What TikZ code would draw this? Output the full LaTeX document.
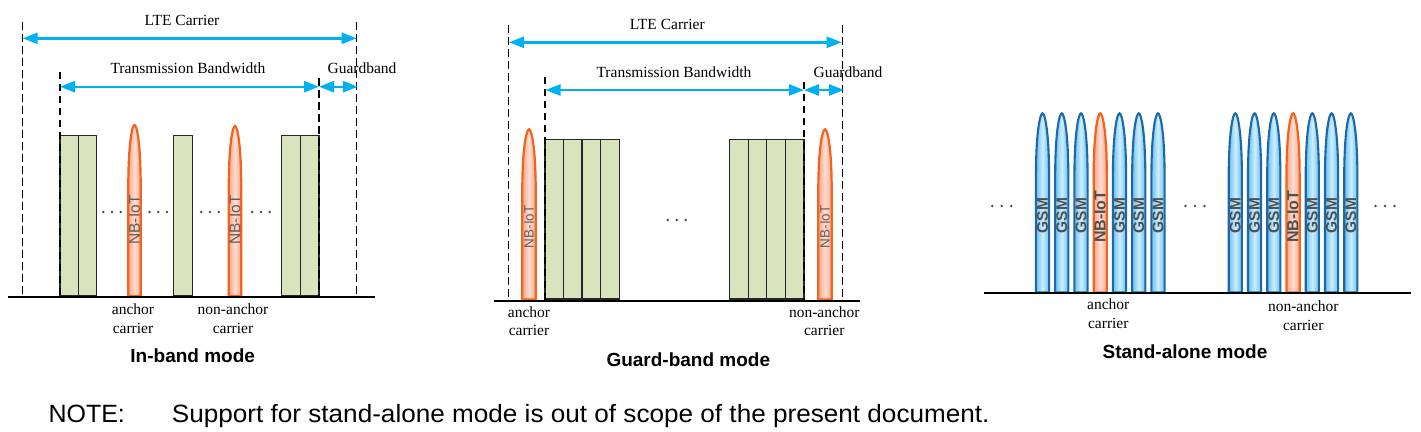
\documentclass[tikz,border=0pt]{standalone}
\usepackage{fontspec}
\setmainfont{Liberation Serif}
\newfontfamily\notesans{Liberation Sans}
\usetikzlibrary{arrows.meta}
\definecolor{arrowblue}{RGB}{0,176,240}
\definecolor{bandgreen}{RGB}{215,228,189}
\definecolor{nbline}{RGB}{240,100,30}
\definecolor{nbedge}{RGB}{250,165,138}
\definecolor{nbmid}{RGB}{253,222,210}
\definecolor{gsmline}{RGB}{28,105,165}
\definecolor{gsmedge}{RGB}{105,192,242}
\definecolor{gsmmid}{RGB}{205,238,253}
\definecolor{spiketext}{RGB}{95,95,95}
\definecolor{gsmtextc}{RGB}{80,80,80}
\newcommand\spikeshape[5]{%
  \path[#5] ({#1-#4},{#3}) -- ({#1-#4},{#2+0.36*(#3-#2)})
    .. controls ({#1-#4},{#2+0.1*(#3-#2)}) and ({#1-0.35*#4},{#2}) .. ({#1},{#2})
    .. controls ({#1+0.35*#4},{#2}) and ({#1+#4},{#2+0.1*(#3-#2)}) .. ({#1+#4},{#2+0.36*(#3-#2)})
    -- ({#1+#4},{#3}) -- cycle;}
\newcommand\dotrow[3]{%
  \fill[black!70] ({#1-#3},#2) circle (1.4) (#1,#2) circle (1.4) ({#1+#3},#2) circle (1.4);}
\tikzset{
  dimarrow/.style={draw=arrowblue, line width=2.4pt,
    {Triangle[length=15pt,width=11pt]}-{Triangle[length=15pt,width=11pt]}},
  guide/.style={draw=black, line width=1.5pt, dash pattern=on 7.5pt off 4.5pt},
  axisline/.style={draw=black, line width=2pt},
  band/.style={draw=black!85, line width=1.2pt, fill=bandgreen},
  lbl/.style={font=\fontsize{15.5}{18.5}\selectfont, inner sep=0pt, align=center},
  modetitle/.style={font=\notesans\bfseries\fontsize{19}{22}\selectfont, inner sep=0pt},
  notetext/.style={font=\notesans\fontsize{25}{30}\selectfont, inner sep=0pt, anchor=base west},
  nbspike/.style={draw=nbline, line width=2.2pt, left color=nbedge, right color=nbedge, middle color=nbmid},
  gsmspike/.style={draw=gsmline, line width=2.1pt, left color=gsmedge, right color=gsmedge, middle color=gsmmid},
  nbtext/.style={font=\notesans\fontsize{15.5}{15.5}\selectfont, text=spiketext, rotate=90, inner sep=0pt},
  nbtextb/.style={font=\notesans\bfseries\fontsize{16}{16}\selectfont, text=gsmtextc, rotate=90, inner sep=0pt},
  gsmtext/.style={font=\notesans\bfseries\fontsize{15.5}{15.5}\selectfont, text=gsmtextc, rotate=90, inner sep=0pt},
}
\begin{document}
\begin{tikzpicture}[x=1pt,y=-1pt]
\useasboundingbox[fill=white] (0,0) rectangle (1421,431);

% ================= In-band mode =================
\coordinate (ibLOt) at (22.7,22);   \coordinate (ibLOb) at (22.7,296);
\coordinate (ibROt) at (356.7,22);  \coordinate (ibROb) at (356.7,296);
\coordinate (ibLIt) at (60,71.7);   \coordinate (ibLIb) at (60,296);
\coordinate (ibRIt) at (319,78);    \coordinate (ibRIb) at (319,296);
\draw[band] (60,135.7) rectangle (78.3,296);
\draw[band] (78.3,135.7) rectangle (96.7,296);
\draw[band] (173.7,135.7) rectangle (192.3,296);
\draw[band] (281.7,135.7) rectangle (300.3,296);
\draw[band] (300.3,135.7) rectangle (319,296);
\spikeshape{134.5}{125}{296}{6.2}{nbspike}
\spikeshape{235}{126}{296}{6.2}{nbspike}
\node[nbtext] (ibNB1) at (134.5,220) {NB-IoT};
\node[nbtext] (ibNB2) at (235,220) {NB-IoT};
\dotrow{112}{212}{8.7}
\dotrow{158.3}{212}{8.7}
\dotrow{210}{212}{8.7}
\dotrow{261}{212}{8.7}
\draw[guide] (ibLOt) -- (ibLOb);
\draw[guide] (ibROt) -- (ibROb);
\draw[guide] (ibLIt) -- (ibLIb);
\draw[guide] (ibRIt) -- (ibRIb);
\coordinate (ibAxL) at (8,296.7); \coordinate (ibAxR) at (375,296.7);
\draw[axisline] (ibAxL) -- (ibAxR);
\coordinate (ibLTEl) at (22.7,38.3); \coordinate (ibLTEr) at (356.7,38.3);
\coordinate (ibTBl) at (60,86.7); \coordinate (ibTBr) at (319,86.7);
\coordinate (ibGBr) at (358,86.7);
\draw[dimarrow] (ibLTEl) -- (ibLTEr);
\draw[dimarrow] (ibTBl) -- (ibTBr);
\draw[dimarrow] (ibTBr) -- (ibGBr);
\node[lbl] (ibLTE) at (182,20.7) {LTE Carrier};
\node[lbl] (ibTB) at (188,68.5) {Transmission Bandwidth};
\node[lbl] (ibGB) at (362,68.5) {Guardband};
\node[lbl] (ibAnc) at (133,318.7) {anchor\\carrier};
\node[lbl] (ibNon) at (233,318.7) {non-anchor\\carrier};
\node[modetitle] (ibTitle) at (192.7,355.7) {In-band mode};

% ================= Guard-band mode =================
\coordinate (gbLOt) at (508.3,25);  \coordinate (gbLOb) at (508.3,300);
\coordinate (gbROt) at (842.3,25);  \coordinate (gbROb) at (842.3,300);
\coordinate (gbLIt) at (545,76.7);  \coordinate (gbLIb) at (545,300);
\coordinate (gbRIt) at (804,81.7);  \coordinate (gbRIb) at (804,300);
\draw[band] (545,139.3) rectangle (563.7,299);
\draw[band] (563.7,139.3) rectangle (582,299);
\draw[band] (582,139.3) rectangle (600.7,299);
\draw[band] (600.7,139.3) rectangle (619.3,299);
\draw[band] (729.3,139.3) rectangle (748.3,299);
\draw[band] (748.3,139.3) rectangle (766.7,299);
\draw[band] (766.7,139.3) rectangle (785.7,299);
\draw[band] (785.7,139.3) rectangle (804,299);
\spikeshape{529}{129.3}{299.5}{6.7}{nbspike}
\spikeshape{825}{129.3}{299.5}{6.7}{nbspike}
\node[nbtext, font=\notesans\fontsize{13.5}{13.5}\selectfont] (gbNB1) at (529,226.7) {NB-IoT};
\node[nbtext, font=\notesans\fontsize{13.5}{13.5}\selectfont] (gbNB2) at (825,226.7) {NB-IoT};
\dotrow{676.7}{220}{9}
\draw[guide] (gbLOt) -- (gbLOb);
\draw[guide] (gbROt) -- (gbROb);
\draw[guide] (gbLIt) -- (gbLIb);
\draw[guide] (gbRIt) -- (gbRIb);
\coordinate (gbAxL) at (494,301); \coordinate (gbAxR) at (860,301);
\draw[axisline] (gbAxL) -- (gbAxR);
\coordinate (gbLTEl) at (509,42.3); \coordinate (gbLTEr) at (841.7,42.3);
\coordinate (gbTBl) at (545.5,90); \coordinate (gbTBr) at (804,90);
\coordinate (gbGBr) at (844,90);
\draw[dimarrow] (gbLTEl) -- (gbLTEr);
\draw[dimarrow] (gbTBl) -- (gbTBr);
\draw[dimarrow] (gbTBr) -- (gbGBr);
\node[lbl] (gbLTE) at (667.3,24.7) {LTE Carrier};
\node[lbl] (gbTB) at (674,72) {Transmission Bandwidth};
\node[lbl] (gbGB) at (848,72) {Guardband};
\node[lbl] (gbAnc) at (529,321.4) {anchor\\carrier};
\node[lbl] (gbNon) at (824.3,321.4) {non-anchor\\carrier};
\node[modetitle] (gbTitle) at (688.3,359.3) {Guard-band mode};

% ================= Stand-alone mode =================
% group 1
\spikeshape{1042.5}{113.3}{292.5}{6.6}{gsmspike}
\spikeshape{1061.75}{113.3}{292.5}{6.6}{gsmspike}
\spikeshape{1081}{113.3}{292.5}{6.6}{gsmspike}
\spikeshape{1100.25}{113.3}{292.5}{6.6}{nbspike}
\spikeshape{1119.5}{113.3}{292.5}{6.6}{gsmspike}
\spikeshape{1138.75}{113.3}{292.5}{6.6}{gsmspike}
\spikeshape{1158}{113.3}{292.5}{6.6}{gsmspike}
\node[gsmtext] (saG1) at (1042.5,215.7) {GSM};
\node[gsmtext] (saG2) at (1061.75,215.7) {GSM};
\node[gsmtext] (saG3) at (1081,215.7) {GSM};
\node[nbtextb] (saN1) at (1100.25,216.7) {NB-IoT};
\node[gsmtext] (saG4) at (1119.5,215.7) {GSM};
\node[gsmtext] (saG5) at (1138.75,215.7) {GSM};
\node[gsmtext] (saG6) at (1158,215.7) {GSM};
% group 2
\spikeshape{1235.3}{113.3}{292.5}{6.6}{gsmspike}
\spikeshape{1254.55}{113.3}{292.5}{6.6}{gsmspike}
\spikeshape{1273.8}{113.3}{292.5}{6.6}{gsmspike}
\spikeshape{1293.05}{113.3}{292.5}{6.6}{nbspike}
\spikeshape{1312.3}{113.3}{292.5}{6.6}{gsmspike}
\spikeshape{1331.55}{113.3}{292.5}{6.6}{gsmspike}
\spikeshape{1350.8}{113.3}{292.5}{6.6}{gsmspike}
\node[gsmtext] (saG7) at (1235.3,215.7) {GSM};
\node[gsmtext] (saG8) at (1254.55,215.7) {GSM};
\node[gsmtext] (saG9) at (1273.8,215.7) {GSM};
\node[nbtextb] (saN2) at (1293.05,216.7) {NB-IoT};
\node[gsmtext] (saG10) at (1312.3,215.7) {GSM};
\node[gsmtext] (saG11) at (1331.55,215.7) {GSM};
\node[gsmtext] (saG12) at (1350.8,215.7) {GSM};
\dotrow{1001.7}{206}{9.5}
\dotrow{1195}{206}{9.5}
\dotrow{1385}{206}{9.5}
\coordinate (saAxL) at (984,293.3); \coordinate (saAxR) at (1410.7,293.3);
\draw[axisline] (saAxL) -- (saAxR);
\node[lbl] (saAnc) at (1108.3,313.5) {anchor\\carrier};
\node[lbl] (saNon) at (1303.3,315.5) {non-anchor\\carrier};
\node[modetitle] (saTitle) at (1185,351.7) {Stand-alone mode};

% ================= Note =================
\node[notetext] (noteHead) at (48.3,422.3) {NOTE:};
\node[notetext] (noteBody) at (171.7,422.3) {\scalebox{1.045}[1]{Support for stand-alone mode is out of scope of the present document.}};
\end{tikzpicture}
\end{document}
